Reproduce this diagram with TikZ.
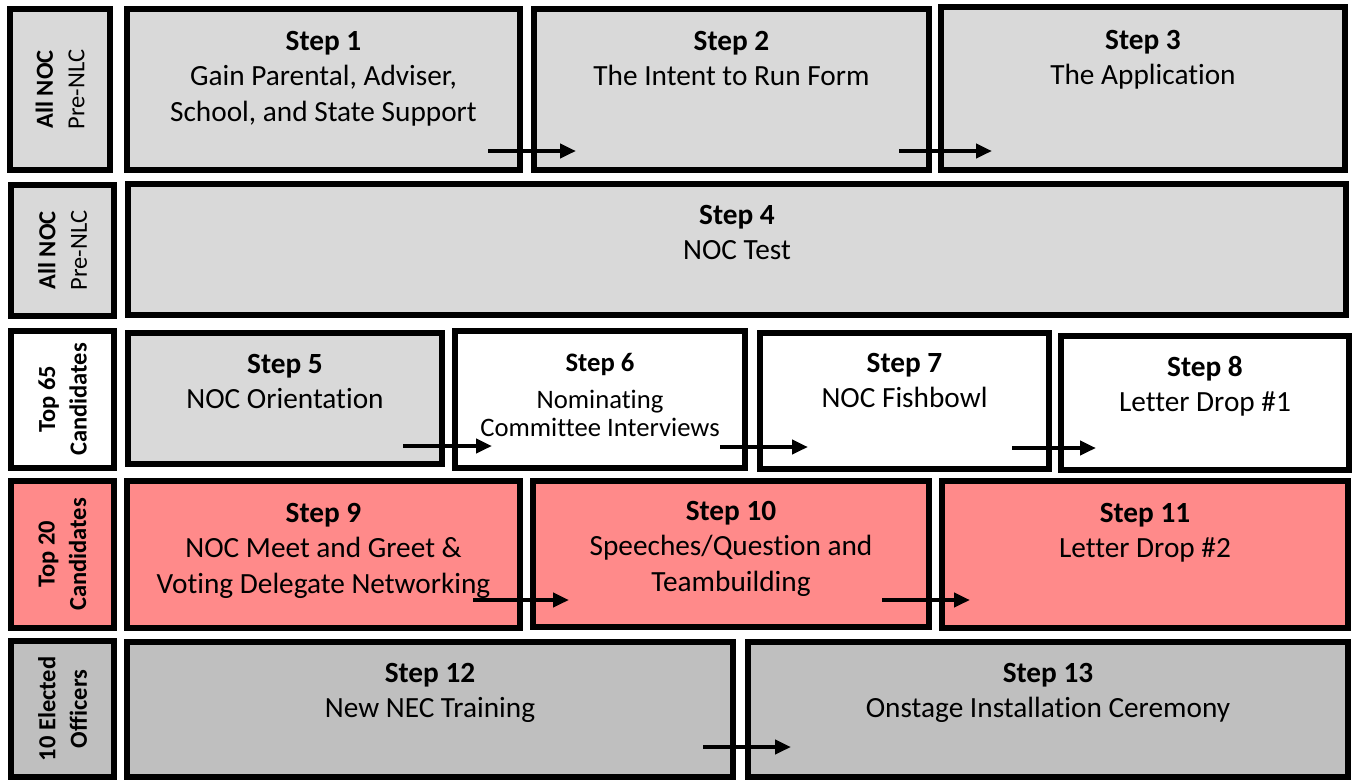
\documentclass[tikz,border=0pt]{standalone}
\usepackage{fontspec}
\setmainfont{Carlito}[Ligatures=NoCommon]
\usetikzlibrary{arrows.meta}
\definecolor{lgray}{HTML}{D9D9D9}
\definecolor{mgray}{HTML}{BFBFBF}
\definecolor{pinkfill}{HTML}{FF8A8A}
% name, x1, y1, x2, y2 (outer edges), fill
\newcommand\mkbox[6]{\node[box,fill=#6,minimum width={#4-#2-6},minimum height={#5-#3-6}] (#1) at ({(#2+#4)/2},{(#3+#5)/2}) {};}
\begin{document}
\begin{tikzpicture}[x=1pt,y=-1pt,
  box/.style={draw=black,line width=6pt,rectangle,inner sep=0pt,outer sep=0pt},
  steptext/.style={anchor=north,align=center,inner sep=0pt,font=\fontsize{29.3}{35.5}\selectfont},
  smalltext/.style={anchor=north,align=center,inner sep=0pt,font=\fontsize{26.67}{28.5}\selectfont},
  lbl/.style={rotate=90,align=center,inner sep=0pt,font=\fontsize{24.5}{31.5}\selectfont},
  flow/.style={line width=4pt,-{Triangle[length=16pt,width=14pt]}}]
\useasboundingbox (0,0) rectangle (1354,780);
% row 1
\mkbox{l1}{7}{6}{113}{173}{lgray}
\mkbox{s1}{124}{6}{523}{173}{lgray}
\mkbox{s2}{531}{6}{932}{173}{lgray}
\mkbox{s3}{938}{4}{1348}{173}{lgray}
% row 2
\mkbox{l2}{8}{182}{117}{319}{lgray}
\mkbox{s4}{125}{181}{1349}{318}{lgray}
% row 3
\mkbox{l3}{8}{328}{117}{471}{white}
\mkbox{s5}{125}{330}{445}{467}{lgray}
\mkbox{s6}{452}{328}{748}{471}{white}
\mkbox{s7}{757}{330}{1052}{472}{white}
\mkbox{s8}{1058}{333}{1352}{473}{white}
% row 4
\mkbox{l4}{8}{478}{117}{631}{pinkfill}
\mkbox{s9}{124}{478}{523}{631}{pinkfill}
\mkbox{s10}{530}{478}{932}{630}{pinkfill}
\mkbox{s11}{939}{478}{1351}{631}{pinkfill}
% row 5
\mkbox{l5}{8}{638}{117}{780}{mgray}
\mkbox{s12}{124}{639}{736}{780}{mgray}
\mkbox{s13}{745}{639}{1351}{780}{mgray}
% row labels
\node[lbl] (l1t) at (l1 |- 0,89.5) {\textbf{All NOC}\\Pre-NLC};
\node[lbl] (l2t) at (l2) {\textbf{All NOC}\\Pre-NLC};
\node[lbl] (l3t) at (l3) {\textbf{Top 65}\\\textbf{Candidates}};
\node[lbl] (l4t) at (l4) {\textbf{Top 20}\\\textbf{Candidates}};
\node[lbl] (l5t) at (l5) {\textbf{10 Elected}\\\textbf{Officers}};
% step texts
\node[steptext] (t1) at (s1 |- 0,31) {\textbf{Step 1}\\Gain Parental, Adviser,\\School, and State Support};
\node[steptext] (t2) at (s2 |- 0,31) {\textbf{Step 2}\\The Intent to Run Form};
\node[steptext] (t3) at (s3 |- 0,30) {\textbf{Step 3}\\The Application};
\node[steptext] (t4) at (s4 |- 0,205) {\textbf{Step 4}\\NOC Test};
\node[steptext] (t5) at (s5 |- 0,354) {\textbf{Step 5}\\NOC Orientation};
\node[smalltext] (t6) at (s6 |- 0,353) {\textbf{Step 6}\\[8.5pt]Nominating\\Committee Interviews};
\node[steptext] (t7) at (s7 |- 0,353) {\textbf{Step 7}\\NOC Fishbowl};
\node[steptext] (t8) at (s8 |- 0,356) {\textbf{Step 8}\\Letter Drop \#1};
\node[steptext] (t9) at (s9 |- 0,503) {\textbf{Step 9}\\NOC Meet and Greet \&\\Voting Delegate Networking};
\node[steptext] (t10) at (s10 |- 0,501) {\textbf{Step 10}\\Speeches/Question and\\Teambuilding};
\node[steptext] (t11) at (s11 |- 0,503) {\textbf{Step 11}\\Letter Drop \#2};
\node[steptext] (t12) at (s12 |- 0,663) {\textbf{Step 12}\\New NEC Training};
\node[steptext] (t13) at (s13 |- 0,663) {\textbf{Step 13}\\Onstage Installation Ceremony};
% arrows
\coordinate (a1s) at (488,151); \coordinate (a1e) at (576,151);
\coordinate (a2s) at (899,151); \coordinate (a2e) at (992,151);
\coordinate (a3s) at (403,446); \coordinate (a3e) at (492,446);
\coordinate (a4s) at (720,447); \coordinate (a4e) at (808,447);
\coordinate (a5s) at (1012,448); \coordinate (a5e) at (1096,448);
\coordinate (a6s) at (473,600); \coordinate (a6e) at (569,600);
\coordinate (a7s) at (882,600); \coordinate (a7e) at (970,600);
\coordinate (a8s) at (703,747); \coordinate (a8e) at (791,747);
\foreach \i in {1,...,8} {\draw[flow] (a\i s) -- (a\i e);}
\end{tikzpicture}
\end{document}
